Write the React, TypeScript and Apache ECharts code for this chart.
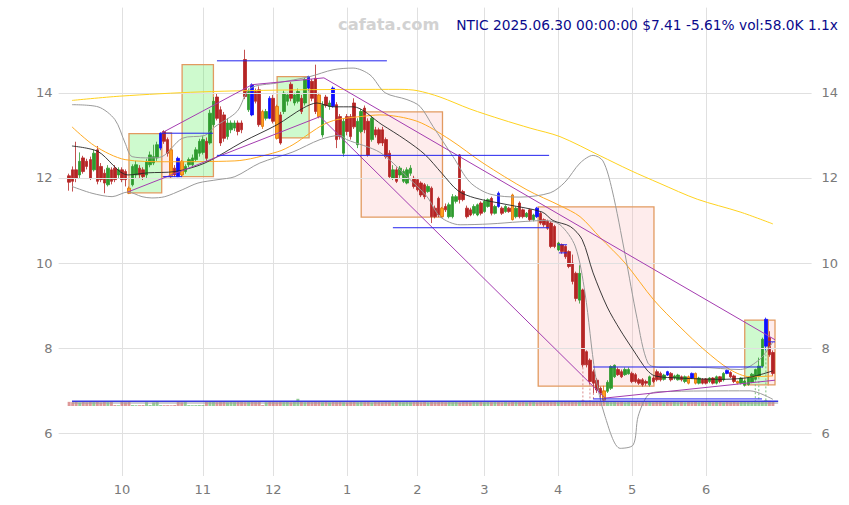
import React, { useEffect, useRef } from "react";
import * as echarts from "echarts";

// ---------- calendar ----------
const HOLIDAYS = ["2024-11-28", "2024-12-25", "2025-01-01", "2025-01-09", "2025-01-20", "2025-02-17", "2025-04-18", "2025-05-26", "2025-06-19"];

// ---------- OHLC [open, close, low, high] ----------
const sepOHLC = [
  [12.05, 11.9, 11.7, 12.1], [12.19, 11.92, 11.68, 12.27], [12.19, 11.99, 11.9, 12.85], [12.07, 12.39, 12.0, 12.6],
  [12.47, 12.15, 12.1, 12.52], [12.39, 12.27, 12.2, 12.45], [12.43, 11.99, 11.95, 12.5], [12.19, 12.58, 12.15, 12.66],
  [12.66, 11.92, 11.85, 12.75], [12.27, 11.96, 11.9, 12.35], [12.11, 11.88, 11.64, 12.2], [11.84, 12.23, 11.8, 12.3],
  [12.19, 11.92, 11.85, 12.25], [12.23, 11.96, 11.9, 12.3], [12.07, 12.19, 12.0, 12.25],
];
const octOHLC = [
  [12.19, 11.96, 11.9, 12.25], [12.15, 11.96, 11.8, 12.2], [11.76, 11.64, 11.62, 11.8], [11.84, 12.27, 11.8, 12.32],
  [12.07, 12.31, 12.0, 12.4], [12.23, 12.07, 12.0, 12.3], [12.19, 12.03, 11.95, 12.25], [12.07, 12.39, 12.0, 12.45],
  [12.31, 12.54, 12.25, 12.62], [12.35, 12.5, 12.3, 12.78], [12.47, 12.78, 12.4, 12.85], [12.7, 13.05, 12.65, 13.07],
  [13.09, 12.86, 12.8, 13.12], [12.9, 12.58, 12.5, 12.95], [12.66, 12.03, 12.0, 12.7], [12.23, 12.07, 12.02, 12.3],
  [12.46, 12.03, 12.02, 12.5], [12.39, 12.07, 12.04, 12.42], [12.15, 12.27, 12.1, 12.32], [12.31, 12.43, 12.25, 12.48],
  [12.31, 12.47, 12.28, 12.55], [12.43, 12.66, 12.38, 12.72], [12.58, 12.86, 12.5, 12.92],
];
const novOHLC = [
  [12.6, 12.9, 12.55, 12.98], [12.86, 12.46, 12.4, 12.95], [12.82, 13.52, 12.78, 13.6], [13.25, 13.8, 13.2, 13.9],
  [13.9, 13.4, 13.35, 13.98], [13.6, 12.82, 12.75, 13.68], [13.48, 12.93, 12.85, 13.55], [12.97, 13.29, 12.9, 13.4],
  [13.13, 13.29, 13.05, 13.35], [13.17, 13.29, 13.1, 13.35], [13.29, 13.09, 13.0, 13.35], [13.29, 13.13, 13.05, 13.35],
  [14.78, 13.91, 13.85, 15.01], [13.6, 14.05, 13.55, 14.1], [14.19, 13.48, 13.45, 14.22], [14.03, 13.8, 13.75, 14.1],
  [14.07, 13.25, 13.2, 14.15], [13.56, 13.21, 13.15, 13.6], [13.4, 13.56, 13.35, 13.62], [13.87, 13.4, 13.38, 13.92],
];
const decOHLC = [
  [13.87, 13.33, 13.28, 13.95], [13.68, 12.93, 12.9, 13.72], [13.48, 12.82, 12.78, 13.55], [13.56, 13.99, 13.5, 14.05],
  [13.8, 13.95, 13.7, 14.0], [14.2, 13.87, 13.8, 14.25], [13.76, 13.95, 13.7, 14.0], [13.8, 14.03, 13.75, 14.1],
  [13.87, 13.56, 13.5, 13.95], [13.76, 14.31, 13.7, 14.35], [14.38, 14.11, 14.05, 14.4], [14.27, 13.87, 13.8, 14.32],
  [14.34, 13.56, 13.5, 14.66], [13.95, 13.44, 13.4, 14.0], [13.01, 13.72, 12.95, 13.8], [13.9, 13.7, 13.65, 13.95],
  [13.68, 13.76, 13.6, 13.82], [14.11, 13.68, 13.65, 14.15], [13.72, 12.9, 12.7, 13.78], [13.44, 12.97, 12.9, 13.5],
  [12.58, 13.33, 12.5, 13.4],
];
const janOHLC = [
  [13.44, 13.09, 13.0, 13.5], [13.44, 12.97, 12.9, 13.5], [13.76, 13.2, 13.15, 13.87], [12.78, 13.33, 12.7, 13.4],
  [13.09, 13.56, 13.05, 13.62], [13.64, 13.13, 13.05, 13.7], [13.33, 12.54, 12.5, 13.4], [12.9, 13.4, 12.85, 13.45],
  [13.13, 13.01, 12.95, 13.2], [13.13, 12.82, 12.78, 13.18], [13.13, 12.82, 12.75, 13.2], [12.9, 12.5, 12.45, 12.95],
  [12.58, 12.03, 12.0, 12.65], [11.99, 12.19, 11.95, 12.3], [12.19, 11.92, 11.88, 12.25], [12.07, 12.23, 12.0, 12.28],
  [11.92, 12.15, 11.88, 12.2], [11.88, 12.19, 11.85, 12.25], [12.11, 12.23, 12.05, 12.3], [11.99, 11.8, 11.75, 12.05],
];
const febOHLC = [
  [11.96, 11.72, 11.68, 12.0], [11.88, 11.6, 11.55, 11.92], [11.84, 11.56, 11.5, 11.88], [11.68, 11.8, 11.65, 11.85],
  [11.76, 11.09, 10.94, 11.8], [11.29, 11.09, 11.05, 11.35], [11.52, 11.13, 11.08, 11.56], [11.29, 11.09, 11.06, 11.32],
  [11.33, 11.25, 11.2, 11.4], [11.09, 11.37, 11.05, 11.42], [11.09, 11.56, 11.05, 11.62], [11.45, 11.56, 11.4, 11.6],
  [12.54, 11.49, 11.4, 12.56], [11.68, 11.49, 11.45, 11.72], [11.29, 11.09, 11.05, 11.35], [11.25, 11.13, 11.1, 11.3],
  [11.17, 11.33, 11.12, 11.38], [11.13, 11.37, 11.1, 11.4], [11.41, 11.17, 11.12, 11.45],
];
const marOHLC = [
  [11.21, 11.45, 11.18, 11.5], [11.33, 11.49, 11.3, 11.52], [11.52, 11.17, 11.12, 11.56], [11.17, 11.33, 11.14, 11.37],
  [11.64, 11.33, 11.3, 11.68], [11.29, 11.17, 11.13, 11.33], [11.21, 11.33, 11.18, 11.36], [11.29, 11.21, 11.18, 11.32],
  [11.6, 11.02, 11.0, 11.63], [11.09, 11.29, 11.05, 11.33], [11.41, 11.09, 11.05, 11.45], [11.25, 11.09, 11.05, 11.28],
  [11.09, 11.17, 11.06, 11.2], [11.25, 11.02, 10.98, 11.28], [11.02, 11.13, 10.98, 11.16], [11.29, 11.09, 11.06, 11.32],
  [11.17, 10.94, 10.9, 11.2], [11.02, 10.9, 10.85, 11.05], [10.98, 10.82, 10.78, 11.02], [10.94, 10.39, 10.35, 10.98],
  [10.86, 10.39, 10.35, 10.9],
];
const aprOHLC = [
  [10.31, 10.47, 10.28, 10.5], [10.43, 10.27, 10.22, 10.46], [10.39, 10.15, 10.1, 10.42], [10.27, 9.92, 9.88, 10.3],
  [10.0, 9.57, 9.5, 10.2], [9.76, 9.17, 9.1, 9.8], [9.13, 9.76, 9.05, 9.95], [9.37, 7.61, 7.55, 9.4],
  [7.92, 7.61, 7.55, 7.95], [7.72, 7.22, 7.15, 7.76], [7.45, 7.18, 6.95, 7.5], [7.25, 7.02, 6.95, 7.3],
  [7.06, 6.94, 6.8, 7.1], [7.0, 6.78, 6.72, 7.12], [6.99, 7.2, 6.95, 7.25], [7.06, 7.57, 7.02, 7.6],
  [7.33, 7.6, 7.3, 7.62], [7.5, 7.38, 7.35, 7.55], [7.45, 7.33, 7.3, 7.5], [7.38, 7.5, 7.35, 7.55],
  [7.4, 7.5, 7.38, 7.55],
];
const mayOHLC = [
  [7.41, 7.22, 7.18, 7.45], [7.38, 7.22, 7.18, 7.42], [7.26, 7.18, 7.14, 7.3], [7.26, 7.14, 7.1, 7.3],
  [7.22, 7.18, 7.12, 7.26], [7.14, 7.33, 7.1, 7.36], [7.3, 7.22, 7.18, 7.34], [7.45, 7.26, 7.22, 7.5],
  [7.41, 7.26, 7.22, 7.45], [7.27, 7.37, 7.24, 7.4], [7.45, 7.37, 7.35, 7.47], [7.41, 7.26, 7.22, 7.44],
  [7.3, 7.35, 7.26, 7.38], [7.26, 7.37, 7.24, 7.4], [7.33, 7.26, 7.22, 7.36], [7.22, 7.33, 7.18, 7.36],
  [7.33, 7.18, 7.15, 7.36], [7.41, 7.3, 7.28, 7.43], [7.41, 7.18, 7.15, 7.43], [7.18, 7.3, 7.15, 7.33],
  [7.27, 7.18, 7.15, 7.3],
];
const junOHLC = [
  [7.28, 7.18, 7.15, 7.3], [7.22, 7.3, 7.18, 7.32], [7.3, 7.18, 7.15, 7.32], [7.18, 7.33, 7.15, 7.36],
  [7.33, 7.22, 7.18, 7.35], [7.26, 7.41, 7.22, 7.44], [7.48, 7.41, 7.39, 7.5], [7.43, 7.33, 7.3, 7.46],
  [7.35, 7.22, 7.18, 7.38], [7.22, 7.18, 7.15, 7.24], [7.18, 7.3, 7.15, 7.32], [7.13, 7.23, 7.1, 7.26],
  [7.15, 7.3, 7.12, 7.33], [7.2, 7.39, 7.18, 7.42], [7.27, 7.5, 7.25, 7.52], [7.35, 7.58, 7.32, 7.78],
  [7.58, 8.21, 7.55, 8.25], [8.05, 8.68, 7.95, 8.72], [8.25, 7.85, 7.8, 8.4], [7.9, 7.41, 7.35, 7.95],
];

// highlighted candles (index into trading days)
const blueCandles = [26, 31, 52, 57, 68, 75, 122, 133, 170, 177, 187, 198];
const orangeCandles = [17, 29, 32, 55, 59, 71, 106, 126, 152, 176, 178, 190];

// ---------- volume (thousands) ----------
const sepVol = [52, 48, 55, 45, 50, 47, 53, 49, 51, 46, 50, 48, 52, 12, 10];
const octVol = [50, 47, 60, 12, 10, 11, 12, 48, 13, 45, 50, 12, 10, 11, 9, 12, 50, 47, 52, 12, 10, 11, 13];
const novVol = [12, 50, 55, 52, 48, 50, 53, 47, 51, 49, 50, 52, 48, 50, 53, 49, 51, 12, 47, 50];
const decVol = [50, 48, 52, 49, 51, 47, 53, 90, 50, 48, 52, 49, 51, 50, 48, 52, 47, 50, 49, 51, 48];
const janVol = [47, 52, 50, 48, 53, 49, 51, 46, 50, 52, 48, 51, 49, 47, 53, 50, 48, 52, 49, 51];
const febVol = [50, 48, 52, 47, 55, 49, 51, 50, 48, 52, 49, 53, 47, 50, 51, 48, 52, 49, 50];
const marVol = [48, 52, 49, 51, 50, 47, 53, 48, 52, 50, 49, 51, 48, 50, 52, 47, 51, 49, 50, 53, 52];
const aprVol = [55, 52, 50, 53, 56, 58, 54, 70, 60, 55, 52, 50, 54, 51, 53, 49, 50, 48, 52, 47, 50];
const mayVol = [48, 50, 47, 52, 49, 51, 48, 50, 52, 47, 51, 49, 50, 48, 52, 47, 50, 49, 51, 48, 50];
const junVol = [49, 51, 48, 50, 52, 47, 51, 49, 50, 48, 52, 50, 51, 49, 53, 55, 60, 75, 65, 58];

// ---------- indicator lines, read as [tradingDayIndex, price] ----------
const ma200Pts = [[0.8, 13.82], [14.4, 13.92], [37.2, 14.02], [65.6, 14.07], [94, 14.08], [98.9, 14.05], [105.4, 13.9], [113.9, 13.62], [123, 13.37], [131, 13.17], [139.5, 12.97], [150.9, 12.52], [159.4, 12.18], [167.9, 11.87], [178.5, 11.5], [190.7, 11.2], [200, 10.92]];
const ma50Pts = [[0.8, 13.2], [7.3, 12.75], [15.9, 12.43], [27.2, 12.38], [47.1, 12.4], [59.1, 12.61], [63.6, 12.78], [68.4, 13.05], [72.2, 13.25], [76.1, 13.37], [82.7, 13.44], [88.3, 13.48], [98.9, 13.33], [108.2, 12.9], [117.6, 12.35], [130.1, 11.72], [139.5, 11.35], [145.2, 11.09], [150.9, 10.6], [158, 10.0], [166.2, 9.13], [173.6, 8.5], [180.7, 7.95], [187.8, 7.5], [193.5, 7.33], [200, 7.35]];
const ma20Pts = [[0.8, 12.75], [8.2, 12.62], [16.7, 12.07], [22.4, 12.12], [30.1, 12.15], [38.6, 12.35], [49.4, 12.85], [59.1, 13.25], [66.5, 13.64], [70.4, 13.76], [75, 13.67], [80.7, 13.67], [88.9, 13.25], [95.5, 12.9], [101.1, 12.55], [105.9, 12.11], [110.5, 11.7], [115.3, 11.53], [124.7, 11.37], [134.4, 11.2], [137.5, 11.0], [142.4, 10.86], [145.8, 10.55], [148.9, 9.77], [152.9, 8.97], [156.6, 8.43], [160.3, 7.96], [164.2, 7.49], [166.5, 7.35], [173.6, 7.3], [185, 7.27], [192.1, 7.3], [196.4, 7.38], [200, 7.47]];
const bbUpperPts = [[0.8, 13.72], [8.2, 13.67], [13, 13.37], [15.9, 12.82], [17.9, 12.5], [23, 12.47], [26.4, 12.5], [32.1, 12.93], [38.6, 13.0], [41.4, 13.2], [47.7, 13.56], [51.4, 14.1], [59.1, 14.23], [68.4, 14.38], [75, 14.54], [80.7, 14.58], [85.5, 14.42], [89.8, 14.0], [96, 13.84], [99.7, 13.68], [103.4, 13.21], [109.1, 12.5], [113.9, 11.9], [119.6, 11.62], [128.1, 11.55], [136.7, 11.65], [140.9, 11.9], [145.2, 12.35], [148.9, 12.53], [151.7, 12.4], [154.3, 11.72], [158, 10.2], [161.4, 8.7], [164.5, 7.65], [167.9, 7.55], [179.3, 7.55], [190.7, 7.5], [196.4, 7.75], [200, 8.15]];
const bbLowerPts = [[0.8, 11.8], [6.5, 11.64], [12.2, 11.56], [16.7, 11.67], [20.7, 11.56], [23.5, 11.53], [27.2, 11.56], [32.1, 11.72], [36.6, 11.88], [42.3, 11.96], [47.1, 12.03], [54.2, 12.35], [63.6, 12.61], [71.3, 12.9], [77, 13.0], [78.9, 12.9], [88.3, 12.6], [96, 12.03], [101.7, 11.56], [105.4, 11.09], [111.1, 10.9], [119.6, 10.92], [128.1, 10.97], [135.2, 11.0], [139.5, 10.9], [143.8, 10.4], [146.6, 9.3], [149.5, 7.4], [152.3, 6.4], [156.6, 5.65], [160.3, 5.73], [161.7, 6.4], [164.5, 6.9], [167.9, 6.98], [193.5, 7.0], [200, 6.8]];

// trend lines
const upperTrend = [[26.4, 13.06], [52.0, 14.19], [72.4, 14.35], [200.6, 8.2]];
const lowerTrend = [[16.7, 11.67], [71.3, 13.44], [152.3, 6.83], [200.6, 7.25]];

// boxes [kind, fromIndex, toIndex, lowPrice, highPrice]
const boxes: [string, number, number, number, number][] = [
  ["up", 17, 26.3, 11.65, 13.04],
  ["down", 26.3, 29.1, 12.03, 13.06],
  ["up", 32.1, 41.0, 12.03, 14.66],
  ["up", 59.1, 68.2, 12.94, 14.38],
  ["down", 83.0, 106.1, 11.08, 13.55],
  ["down", 133.3, 166.2, 7.11, 11.32],
  ["up", 192.0, 198.7, 7.14, 8.66],
  ["down", 198.7, 200.6, 7.14, 8.66],
];

// horizontal levels [price, fromIndex, toIndex]
const levels = [
  [14.75, 42.0, 90.3], [12.53, 42.0, 136.4], [10.83, 92.0, 136.4], [13.05, 26.4, 40.9], [12.03, 26.7, 32.1],
  [7.56, 148.9, 197.2], [6.81, 148.9, 196.9], [10.43, 138.9, 141.5], [10.24, 139.2, 141.5], [8.15, 198.6, 200.6],
];
const volLevel = [6.755, 0.8, 201.5];
const volAvgLevel = [6.714, 0.8, 201.5];

// dotted drop lines [index]
const dropLines = [146, 148, 149, 151, 195, 196, 198];

const TITLE = "NTIC 2025.06.30 00:00:00 $7.41 -5.61% vol:58.0K 1.1x";

const GREEN = "#2e9b2e";
const RED = "#b52424";
const PAD_L = 3;
const PAD_R = 11;

function tradingDays(): string[] {
  const out: string[] = [];
  const d = new Date(Date.UTC(2024, 8, 10));
  const end = Date.UTC(2025, 5, 30);
  while (d.getTime() <= end) {
    const wd = d.getUTCDay();
    const s = d.toISOString().slice(0, 10);
    if (wd !== 0 && wd !== 6 && HOLIDAYS.indexOf(s) < 0) out.push(s);
    d.setUTCDate(d.getUTCDate() + 1);
  }
  return out;
}

function buildOption() {
  const dates = tradingDays();
  const ohlc = [...sepOHLC, ...octOHLC, ...novOHLC, ...decOHLC, ...janOHLC, ...febOHLC, ...marOHLC, ...aprOHLC, ...mayOHLC, ...junOHLC];
  const vols = [...sepVol, ...octVol, ...novVol, ...decVol, ...janVol, ...febVol, ...marVol, ...aprVol, ...mayVol, ...junVol];
  const cats: string[] = [];
  for (let i = 0; i < PAD_L; i++) cats.push("padL" + i);
  dates.forEach((d) => cats.push(d));
  for (let i = 0; i < PAD_R; i++) cats.push("padR" + i);
  const N = cats.length;
  const monthStart = new Set<number>();
  for (let k = 1; k < dates.length; k++) {
    if (dates[k].slice(5, 7) !== dates[k - 1].slice(5, 7)) monthStart.add(k + PAD_L);
  }
  const X = (k: number) => k + PAD_L;

  const candleData = ohlc.map((c, k) => {
    const item: any = { value: [X(k), c[0], c[1], c[2], c[3]] };
    let col: string | null = null;
    let bcol: string | null = null;
    if (blueCandles.indexOf(k) >= 0) { col = "#1010ff"; bcol = "#1010ff"; }
    if (orangeCandles.indexOf(k) >= 0) { col = "#ffa020"; bcol = "#e07000"; }
    if (col) item.itemStyle = { color: col, color0: col, borderColor: bcol, borderColor0: bcol };
    return item;
  });

  const volData = vols.map((v, k) => {
    const c = ohlc[k];
    const up = c && c[1] >= c[0];
    return { value: [X(k), v], itemStyle: { color: up ? "rgba(46,155,46,0.5)" : "rgba(190,50,50,0.5)" } };
  });

  const lineSeries = (pts: number[][], color: string, width: number, z = 5, smooth: number | boolean = 0.3) => ({
    type: "line", xAxisIndex: 1, yAxisIndex: 0, symbol: "none", showSymbol: false, smooth, silent: true, z,
    lineStyle: { color, width }, data: pts.map((p) => [X(p[0]), p[1]]),
  });

  const levelSeries = levels.map((l) => ({
    type: "line", xAxisIndex: 1, yAxisIndex: 0, symbol: "none", silent: true, z: 6,
    lineStyle: { color: "#2222ee", width: 1 }, data: [[X(l[1]), l[0]], [X(l[2]), l[0]]],
  }));

  const volLines = [
    { ...lineSeries([[volAvgLevel[1], volAvgLevel[0]], [volAvgLevel[2], volAvgLevel[0]]], "#999999", 1, 6, false) },
    { ...lineSeries([[volLevel[1], volLevel[0]], [volLevel[2], volLevel[0]]], "#3a3ae0", 1.6, 7, false) },
  ];

  const dropSeries = dropLines.map((k) => {
    const c = ohlc[k];
    const up = c[1] >= c[0];
    return {
      type: "line", xAxisIndex: 1, yAxisIndex: 0, symbol: "none", silent: true, z: 2,
      lineStyle: { color: up ? "#7cc07c" : "#d98c8c", width: 1, type: [2, 2] },
      data: [[X(k), c[2]], [X(k), 6.74]],
    };
  });

  const bg = {
    type: "line", xAxisIndex: 1, yAxisIndex: 0, data: [], silent: true, z: 1,
    markLine: {
      silent: true, symbol: ["none", "none"], label: { show: false },
      lineStyle: { color: "#e0e0e0", type: "solid", width: 1 },
      data: [6, 8, 10, 12, 14].map((v) => ({ yAxis: v })),
    },
    markArea: {
      silent: true,
      data: boxes.map((b) => [
        {
          coord: [X(b[1]), b[4]],
          itemStyle: {
            color: b[0] === "up" ? "rgba(60,235,60,0.25)" : "rgba(250,170,170,0.22)",
            borderColor: "#e29a60", borderWidth: 1.3,
          },
        },
        { coord: [X(b[2]), b[3]] },
      ]),
    },
  };

  return {
    animation: false,
    backgroundColor: "#ffffff",
    textStyle: { fontFamily: "DejaVu Sans" },
    title: [
      { text: TITLE, right: 11, top: 18, padding: 0, textStyle: { color: "#0a0a8c", fontSize: 13.75, fontWeight: "normal", fontFamily: "DejaVu Sans" } },
      { text: "cafata.com", left: 338, top: 16, padding: 0, textStyle: { color: "#d2d2d2", fontSize: 16.3, fontWeight: "bold", fontFamily: "DejaVu Sans" } },
    ],
    grid: [
      { left: 58.6, right: 37.4, top: 7.6, bottom: 29 },
      { left: 58.6, right: 37.4, top: 398, height: 8 },
    ],
    xAxis: [
      {
        type: "category", gridIndex: 0, data: cats, boundaryGap: false,
        axisLine: { show: false }, axisTick: { show: false },
        axisLabel: {
          interval: (idx: number) => monthStart.has(idx),
          formatter: (v: string) => String(Number(v.slice(5, 7))),
          color: "#7a7a7a", fontSize: 13, margin: 7, fontFamily: "DejaVu Sans",
        },
        splitLine: { show: true, interval: (idx: number) => monthStart.has(idx), lineStyle: { color: "#e0e0e0", width: 1 } },
      },
      { type: "value", gridIndex: 0, min: 0, max: N - 1, show: false, splitLine: { show: false } },
      { type: "category", gridIndex: 1, data: cats, boundaryGap: false, show: false },
    ],
    yAxis: [
      {
        type: "value", gridIndex: 0, min: 5, max: 16, interval: 1, position: "left",
        axisLine: { show: false }, axisTick: { show: false }, splitLine: { show: false },
        axisLabel: { formatter: (v: number) => (v % 2 === 0 && v >= 6 && v <= 14 ? String(v) : ""), color: "#7a7a7a", fontSize: 13, margin: 6, fontFamily: "DejaVu Sans" },
      },
      {
        type: "value", gridIndex: 0, min: 5, max: 16, interval: 1, position: "right",
        axisLine: { show: false }, axisTick: { show: false }, splitLine: { show: false },
        axisLabel: { formatter: (v: number) => (v % 2 === 0 && v >= 6 && v <= 14 ? String(v) : ""), color: "#7a7a7a", fontSize: 13, margin: 10, fontFamily: "DejaVu Sans" },
      },
      { type: "value", gridIndex: 1, min: 0, max: 100, show: false },
    ],
    series: [
      bg,
      { type: "bar", xAxisIndex: 2, yAxisIndex: 2, barWidth: 3, silent: true, data: volData, z: 2 },
      ...dropSeries,
      {
        type: "candlestick", xAxisIndex: 0, yAxisIndex: 0, barWidth: 3, barMaxWidth: 3, barMinWidth: 3, silent: true, z: 3,
        encode: { x: 0, y: [1, 2, 3, 4] },
        itemStyle: { color: GREEN, color0: RED, borderColor: GREEN, borderColor0: RED, borderWidth: 0.8 },
        data: candleData,
      },
      lineSeries(ma200Pts, "#ffd21f", 1),
      lineSeries(ma50Pts, "#ffaa22", 1),
      lineSeries(bbUpperPts, "#9a9a9a", 1),
      lineSeries(bbLowerPts, "#9a9a9a", 1),
      lineSeries(ma20Pts, "#262626", 0.9),
      lineSeries(upperTrend, "#a43cb0", 1, 6, false),
      lineSeries(lowerTrend, "#a43cb0", 1, 6, false),
      ...levelSeries,
      ...volLines,
    ],
  };
}

export default function App() {
  const ref = useRef<HTMLDivElement>(null);
  useEffect(() => {
    if (!ref.current) return;
    const chart = echarts.init(ref.current, undefined, { renderer: "svg" });
    chart.setOption(buildOption() as any);
    return () => chart.dispose();
  }, []);
  return <div ref={ref} style={{ width: 849, height: 505, position: "absolute", left: 0, top: 0 }} />;
}
